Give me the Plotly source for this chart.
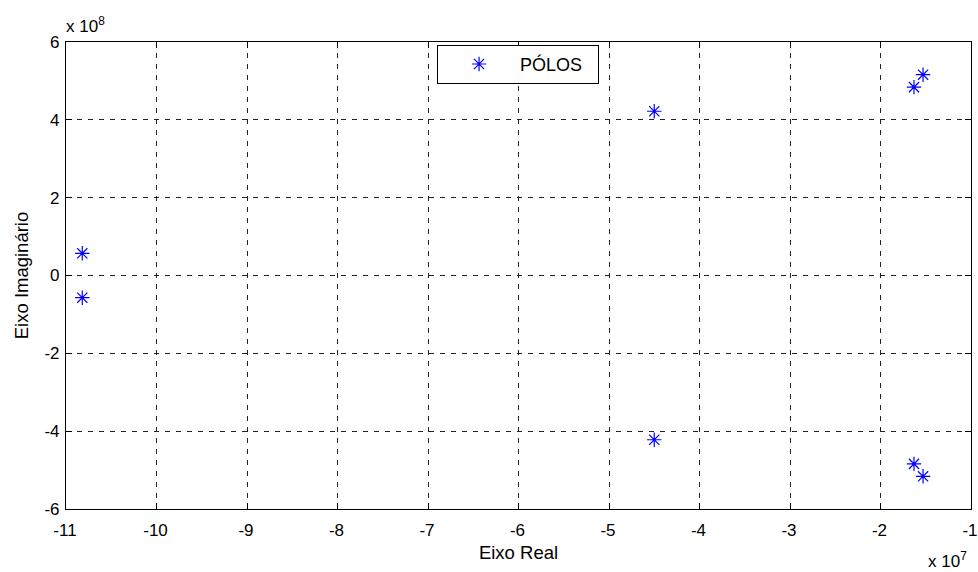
import plotly.graph_objects as go

# Poles (real, imaginary)
real_parts = [-10.82e7, -10.82e7, -4.50e7, -4.50e7, -1.63e7, -1.63e7, -1.53e7, -1.53e7]
imag_parts = [0.57e8, -0.57e8, 4.22e8, -4.22e8, 4.84e8, -4.84e8, 5.16e8, -5.16e8]
series_name = "PÓLOS"

x_scale = 1e7
y_scale = 1e8
x_ticks = [-11, -10, -9, -8, -7, -6, -5, -4, -3, -2, -1]
y_ticks = [-6, -4, -2, 0, 2, 4, 6]

FONT = "Liberation Sans, Arial, Helvetica, sans-serif"
TICK_SIZE = 17
TITLE_SIZE = 18.5

fig = go.Figure()
fig.add_trace(go.Scatter(
    x=[v / x_scale for v in real_parts],
    y=[v / y_scale for v in imag_parts],
    mode="markers",
    name=series_name,
    marker=dict(symbol="asterisk-open", size=12, color="#0000ff",
                line=dict(color="#0000ff", width=1.2)),
))

axis_common = dict(
    showline=True, linecolor="black", linewidth=1.2, mirror="ticks",
    ticks="inside", ticklen=6, tickcolor="black", tickwidth=1,
    showgrid=True, gridcolor="#222222", gridwidth=1, griddash="5px,6px",
    zeroline=False, tickfont=dict(family=FONT, size=TICK_SIZE, color="black"),
    automargin=False, ticklabeloverflow="allow",
)

fig.update_xaxes(range=[-11, -1], tickvals=x_ticks, ticktext=[str(t) for t in x_ticks],
                 ticklabelstandoff=5, ticklabelshift=-1,
                 title=dict(text="Eixo Real", font=dict(family=FONT, size=TITLE_SIZE, color="black"), standoff=7),
                 **axis_common)
fig.update_yaxes(range=[-6, 6], tickvals=y_ticks, ticktext=[str(t) for t in y_ticks],
                 ticklabelstandoff=2,
                 title=dict(text="Eixo Imaginário", font=dict(family=FONT, size=TITLE_SIZE, color="black"), standoff=10),
                 **axis_common)

fig.add_annotation(xref="paper", yref="paper", x=0, y=1, xanchor="left", yanchor="bottom",
                   yshift=4, xshift=-2, text="x 10<sup>8</sup>", showarrow=False,
                   font=dict(family=FONT, size=TICK_SIZE, color="black"))
fig.add_annotation(xref="paper", yref="paper", x=1, y=0, xanchor="right", yanchor="top",
                   yshift=-38, xshift=-2, text="x 10<sup>7</sup>", showarrow=False,
                   font=dict(family=FONT, size=TICK_SIZE, color="black"))

fig.update_layout(
    width=978, height=572,
    margin=dict(l=66, r=7, t=42, b=63),
    paper_bgcolor="white", plot_bgcolor="white",
    showlegend=True,
    legend=dict(x=0.41, y=0.994, xanchor="left", yanchor="top",
                orientation="h", entrywidth=73,
                bgcolor="white", bordercolor="black", borderwidth=1,
                font=dict(family=FONT, size=18, color="black"),
                itemwidth=72, tracegroupgap=0),
    font=dict(family=FONT),
)

fig.write_html("out.html")
